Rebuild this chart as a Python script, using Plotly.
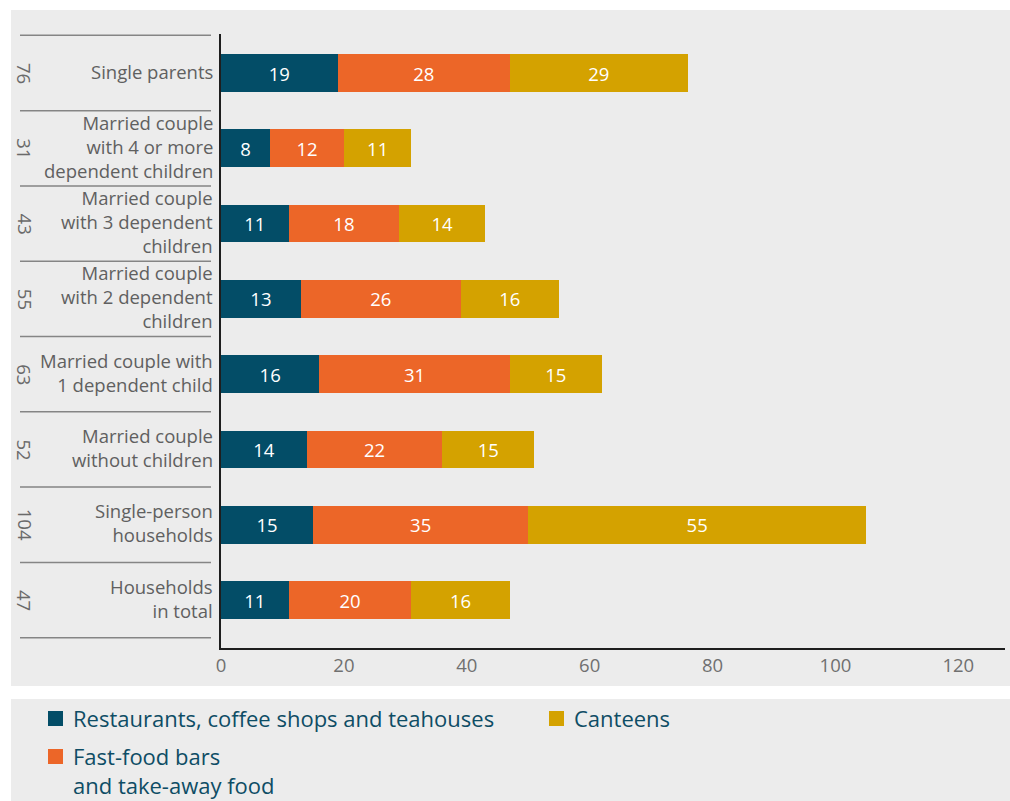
import plotly.graph_objects as go

# Household types, top to bottom
categories = [
    "Single parents",
    "Married couple<br>with 4 or more<br>dependent children",
    "Married couple<br>with 3 dependent<br>children",
    "Married couple<br>with 2 dependent<br>children",
    "Married couple with<br>1 dependent child",
    "Married couple<br>without children",
    "Single-person<br>households",
    "Households<br>in total",
]
restaurants = [19, 8, 11, 13, 16, 14, 15, 11]
fast_food = [28, 12, 18, 26, 31, 22, 35, 20]
canteens = [29, 11, 14, 16, 15, 15, 55, 16]
totals = [76, 31, 43, 55, 63, 52, 104, 47]
x_ticks = [0, 20, 40, 60, 80, 100, 120]

series_names = [
    "Restaurants, coffee shops and teahouses",
    "Fast-food bars<br>and take-away food",
    "Canteens",
]
series_colors = ["#034d67", "#ec6628", "#d4a200"]

W, H = 1010, 801
FONT = "Open Sans"


def px(x):
    return x / W


def py(y):
    return 1 - y / H


fig = go.Figure()
for name, vals, color in zip(series_names, [restaurants, fast_food, canteens], series_colors):
    fig.add_trace(go.Bar(
        y=categories, x=vals, orientation="h", name=name,
        marker=dict(color=color, line=dict(width=0)),
        text=vals, texttemplate="%{x}", textposition="inside",
        insidetextanchor="middle", textangle=0,
        insidetextfont=dict(family=FONT, size=18.5, color="#ffffff"),
        width=0.5, showlegend=False, hoverinfo="skip",
    ))

shapes = [
    # chart panel and legend panel
    dict(type="rect", xref="paper", yref="paper", x0=px(11), x1=px(1010),
         y0=py(686), y1=py(10), fillcolor="#ececec", line=dict(width=0), layer="below"),
    dict(type="rect", xref="paper", yref="paper", x0=px(11), x1=px(1010),
         y0=py(801), y1=py(699), fillcolor="#ececec", line=dict(width=0), layer="below"),
]
# separators between category rows
for k in range(len(categories) + 1):
    shapes.append(dict(type="line", xref="paper", yref="y", x0=px(20), x1=px(211),
                       y0=k - 0.5, y1=k - 0.5, line=dict(color="#858585", width=1.5)))

annotations = []
for cat, tot in zip(categories, totals):
    annotations.append(dict(
        xref="paper", yref="y", x=px(215), y=cat, xanchor="right", yanchor="middle",
        yshift=2, text=cat, showarrow=False, align="right",
        font=dict(family=FONT, size=18.5, color="#606060"),
    ))
    annotations.append(dict(
        xref="paper", yref="y", x=px(25), y=cat, xanchor="center", yanchor="middle",
        text=str(tot), showarrow=False, textangle=90,
        font=dict(family=FONT, size=18.5, color="#6a6a6a"),
    ))

# legend entries: swatch + label (swatch top y, label centre y)
legend_pos = [(48, 711, 718), (48, 749, 770), (549, 711, 718)]
for (lx, ly, ty), name, color in zip(legend_pos, series_names, series_colors):
    shapes.append(dict(type="rect", xref="paper", yref="paper",
                       x0=px(lx), x1=px(lx + 15), y0=py(ly + 15), y1=py(ly),
                       fillcolor=color, line=dict(width=0)))
    annotations.append(dict(
        xref="paper", yref="paper", x=px(lx + 23), y=py(ty),
        xanchor="left", yanchor="middle", text=name, showarrow=False, align="left",
        font=dict(family=FONT, size=22, color="#0e4d65"),
    ))

cat_order = categories[::-1]
fig.update_layout(
    width=W, height=H,
    margin=dict(l=0, r=0, t=0, b=0, autoexpand=False),
    paper_bgcolor="#ffffff", plot_bgcolor="rgba(0,0,0,0)",
    barmode="stack", bargap=0.5,
    shapes=shapes, annotations=annotations,
    xaxis=dict(
        domain=[px(221), px(1005)], range=[0, 127.6],
        tickvals=x_ticks, ticktext=[str(t) for t in x_ticks],
        showgrid=False, zeroline=False, ticks="",
        showline=True, linecolor="#1e1e1e", linewidth=1.5,
        tickfont=dict(family=FONT, size=18.5, color="#707070"),
        fixedrange=True,
    ),
    yaxis=dict(
        domain=[py(648), py(34)], type="category",
        categoryorder="array", categoryarray=cat_order,
        range=[-0.637, 7.518], showticklabels=False,
        showgrid=False, zeroline=False, ticks="",
        showline=True, linecolor="#1e1e1e", linewidth=1.5,
        fixedrange=True,
    ),
)

fig.write_html("out.html")
